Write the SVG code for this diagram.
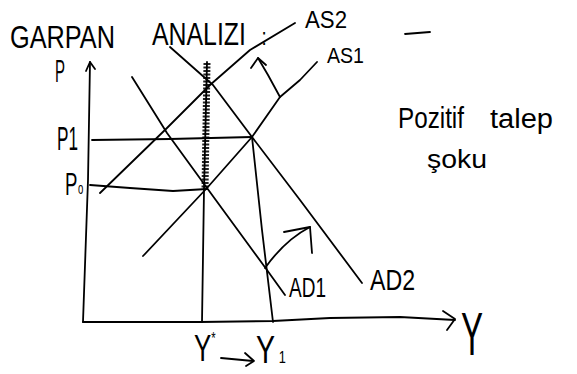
<svg xmlns="http://www.w3.org/2000/svg" width="577" height="374" viewBox="0 0 577 374">
<style>
.ln{fill:none;stroke:#000;stroke-width:1.8;stroke-linecap:round;stroke-linejoin:round}
.t{font-family:"Liberation Sans",Arial,sans-serif;fill:#000}
</style>
<rect width="577" height="374" fill="#fff"/>
<g id="title">
<text class="t" x="10" y="48" font-size="32" textLength="105" lengthAdjust="spacingAndGlyphs">GARPAN</text>
<text class="t" font-size="32" transform="translate(152,45) scale(0.777,1)">ANALIZI<tspan x="141" font-size="24">:</tspan></text>
</g>
<g id="axes">
<path class="ln" d="M90,62 L88,180 L83,322"/>
<path class="ln" d="M86,71 L90,62 L95,69"/>
<path class="ln" d="M83,322 L200,322 L273,321 L330,318 L400,317 L455,320"/>
<path class="ln" d="M443,311 L455,319 L447,330"/>
<text class="t" x="55" y="82" font-size="32" textLength="10" lengthAdjust="spacingAndGlyphs">P</text>
<text class="t" x="461" y="355" font-size="62" textLength="22" lengthAdjust="spacingAndGlyphs">Y</text>
</g>
<g id="connectors">
<path d="M207,63 L205,190" stroke="#222" stroke-width="7" stroke-dasharray="2 1.5" fill="none"/>
<path class="ln" d="M207,62 L204,190 L202,322"/>
<path class="ln" d="M92,140 L170,139 L252,137"/>
<path class="ln" d="M90,185 L130,188 L173,191 L207,189"/>
<path class="ln" d="M252,137 L262,230 L273,322"/>
<path class="ln" d="M143,256 L207,188 L252,137 L280,97 L300,80 L317,62"/>
<path class="ln" d="M100,193 L167,128 L210,85 L250,50 L295,23"/>
<path class="ln" d="M132,77 L167,133 L207,188 L267,270 L285,295"/>
<path class="ln" d="M170,47 L213,85 L252,137 L300,200 L362,283"/>
<path class="ln" d="M280,97 L268,75 L258,58"/>
<path class="ln" d="M251,68 L258,58 L266,65"/>
<path class="ln" d="M265,268 Q285,240 310,227"/>
<path class="ln" d="M284,232 L310,227 L312,253"/>
<path class="ln" d="M221,358 L253,361"/>
<path class="ln" d="M245,353 L254,361 L246,366"/>
<path class="ln" d="M405,34 L430,32" stroke-width="1.3"/>
</g>
<g id="labels">
<text class="t" x="57" y="150" font-size="33" textLength="21" lengthAdjust="spacingAndGlyphs">P1</text>
<text class="t" font-size="31" transform="translate(65,195) scale(0.6,1)">P<tspan font-size="16" dx="1" dy="-1">o</tspan></text>
<text class="t" font-size="37" transform="translate(194,361) scale(0.7,1)">Y<tspan font-size="16" dy="-17">*</tspan></text>
<text class="t" font-size="38" transform="translate(256,363) scale(0.75,1)">Y<tspan font-size="17" dx="5">1</tspan></text>
<text class="t" x="289" y="297" font-size="27" textLength="37" lengthAdjust="spacingAndGlyphs">AD1</text>
<text class="t" x="370" y="290" font-size="29" textLength="45" lengthAdjust="spacingAndGlyphs">AD2</text>
<text class="t" x="327" y="63" font-size="22" textLength="37" lengthAdjust="spacingAndGlyphs">AS1</text>
<text class="t" x="305" y="28" font-size="24" textLength="42" lengthAdjust="spacingAndGlyphs">AS2</text>
<text class="t" x="398" y="128" font-size="29" textLength="66" lengthAdjust="spacingAndGlyphs">Pozitif</text>
<text class="t" x="490" y="128" font-size="27" textLength="63" lengthAdjust="spacingAndGlyphs">talep</text>
<text class="t" x="427" y="168" font-size="26" textLength="60" lengthAdjust="spacingAndGlyphs">şoku</text>
</g>
</svg>
